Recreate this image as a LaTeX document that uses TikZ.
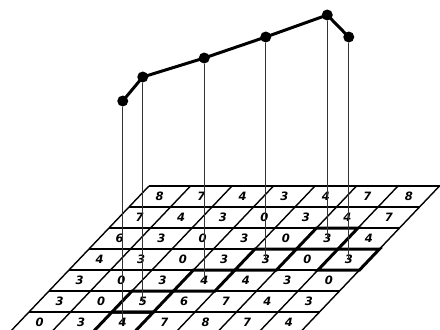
\documentclass[tikz,border=0pt]{standalone}
\usepackage{fontspec}
\setsansfont{DejaVu Sans}
\usetikzlibrary{calc}

\begin{document}
\begin{tikzpicture}[
  x=1pt, y=-1pt,
  dot/.style={circle, fill, inner sep=0pt, minimum size=11pt},
  curve/.style={line width=3pt, line join=round},
  drop/.style={line width=0.8pt, black!80},
  gridline/.style={line width=1.4pt},
  pathcell/.style={line width=3pt, line join=miter},
  cell/.style={font=\fontsize{11.5}{11.5}\selectfont\sffamily\bfseries\itshape, inner sep=1pt},
]
\clip (0,0) rectangle (440,330);
% slanted table
\begin{scope}[shift={(149pt,-186pt)}, x={(41.5pt,0pt)}, y={(-20pt,-21pt)}]
  \foreach \r in {0,...,7} \draw[gridline] (0,\r) -- (7,\r);
  \foreach \c in {0,...,7} \draw[gridline] (\c,0) -- (\c,7);
  \foreach \row [count=\r] in {{8,7,4,3,4,7,8},{7,4,3,0,3,4,7},{6,3,0,3,0,3,4},
      {4,3,0,3,3,0,3},{3,0,3,4,4,3,0},{3,0,5,6,7,4,3},{0,3,4,7,8,7,4}}
    \foreach \v [count=\c] in \row
      \node[cell] (c\r\c) at (\c-0.5,\r-0.5) {\v};
  \foreach \r/\c in {7/3,6/3,5/4,4/5,3/6,4/7}
    \draw[pathcell] (\c-1,\r-1) -- ++(1,0) -- ++(0,1) -- ++(-1,0) -- cycle;
\end{scope}
% points above the path
\foreach \r/\c/\h [count=\i] in {7/3/101,6/3/77,5/4/58,4/5/37,3/6/15,4/7/37} {
  \coordinate (h\i) at (0,\h);
  \node[dot] (p\i) at (c\r\c |- h\i) {};
  \draw[drop] (p\i) -- (c\r\c.center);
}
\draw[curve] (p1.center) -- (p2.center) -- (p3.center) -- (p4.center)
  -- (p5.center) -- (p6.center);
\end{tikzpicture}
\end{document}
